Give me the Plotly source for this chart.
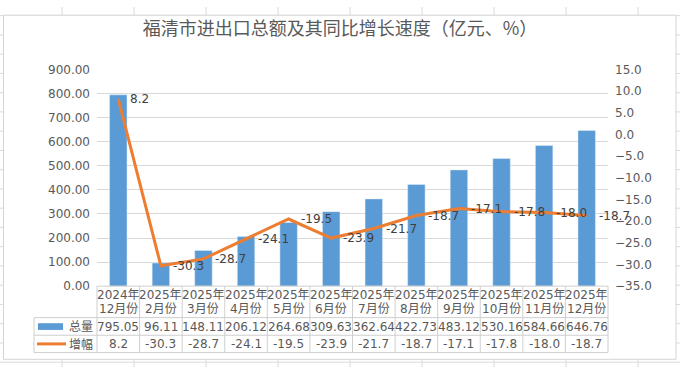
import plotly.graph_objects as go

# ---------------- data ----------------
cat_year = ["2024年", "2025年", "2025年", "2025年", "2025年", "2025年",
            "2025年", "2025年", "2025年", "2025年", "2025年", "2025年"]
cat_month = ["12月份", "2月份", "3月份", "4月份", "5月份", "6月份",
             "7月份", "8月份", "9月份", "10月份", "11月份", "12月份"]
total = [795.05, 96.11, 148.11, 206.12, 264.68, 309.63,
         362.64, 422.73, 483.12, 530.16, 584.66, 646.76]
growth = [8.2, -30.3, -28.7, -24.1, -19.5, -23.9,
          -21.7, -18.7, -17.1, -17.8, -18.0, -18.7]
series_names = ["总量", "增幅"]
title_text = "福清市进出口总额及其同比增长速度（亿元、%）"

# ---------------- geometry helpers (pixels -> paper) ----------------
W, H = 680, 374
def px(x):
    return x / W
def py(y):
    return 1 - y / H

PL, PR, PT, PB = 97, 608, 65, 290       # plot area
ROW1, ROW2, ROW3 = 322.7, 341, 359      # table row boundaries
n = len(total)
cw = (PR - PL) / n

BLUE = "#5b9bd5"
ORANGE = "#ed7d31"
GRID = "#d9d9d9"
TXT = "#595959"
DARK = "#404040"
FONT = "DejaVu Sans, Noto Sans CJK SC, sans-serif"
xs = list(range(n))

fig = go.Figure()
fig.add_trace(go.Bar(x=xs, y=total, name=series_names[0], marker_color=BLUE,
                     width=0.41, yaxis="y"))
fig.add_trace(go.Scatter(x=xs, y=growth, name=series_names[1], mode="lines",
                         line=dict(color=ORANGE, width=3), yaxis="y2"))

shapes = []
# spreadsheet cell grid behind the chart
for k in range(9):
    xv = 62 + 72 * k
    shapes.append(dict(type="line", xref="paper", yref="paper", layer="below",
                       x0=px(xv), x1=px(xv), y0=0, y1=1,
                       line=dict(color="#dadada", width=1)))
for k in range(19):
    yv = 9 + 20 * k
    shapes.append(dict(type="line", xref="paper", yref="paper", layer="below",
                       x0=0, x1=1, y0=py(yv), y1=py(yv),
                       line=dict(color="#dadada", width=1)))
# chart area
shapes.append(dict(type="rect", xref="paper", yref="paper", layer="below",
                   x0=px(3.5), x1=px(676), y0=py(366), y1=py(8.5),
                   fillcolor="white", line=dict(color="#d4d4d4", width=1)))
# data table lines
TL = "#cfcfcf"
shapes.append(dict(type="line", xref="paper", yref="paper",
                   x0=px(PL), x1=px(PR), y0=py(PB), y1=py(PB),
                   line=dict(color=TL, width=1)))
for yv in (ROW1, ROW2, ROW3):
    shapes.append(dict(type="line", xref="paper", yref="paper",
                       x0=px(34), x1=px(PR), y0=py(yv), y1=py(yv),
                       line=dict(color=TL, width=1)))
shapes.append(dict(type="line", xref="paper", yref="paper",
                   x0=px(34), x1=px(34), y0=py(ROW1), y1=py(ROW3),
                   line=dict(color=TL, width=1)))
for k in range(n + 1):
    xv = PL + cw * k
    shapes.append(dict(type="line", xref="paper", yref="paper",
                       x0=px(xv), x1=px(xv), y0=py(PB), y1=py(ROW3),
                       line=dict(color=TL, width=1)))
# legend keys
shapes.append(dict(type="rect", xref="paper", yref="paper",
                   x0=px(38), x1=px(63), y0=py(335.5), y1=py(328.5),
                   fillcolor=BLUE, line=dict(width=0)))
shapes.append(dict(type="line", xref="paper", yref="paper",
                   x0=px(37), x1=px(66), y0=py(350), y1=py(350),
                   line=dict(color=ORANGE, width=3)))

ann = []
# line data labels
for i, g in enumerate(growth):
    ann.append(dict(x=i, y=g, xref="x", yref="y2", text=f"{g:.1f}",
                    showarrow=False, xanchor="left", yanchor="middle",
                    xshift=10, font=dict(size=12, color=DARK, family=FONT)))
# table: categories and values
for i in range(n):
    ann.append(dict(x=i, y=py(299.5), xref="x", yref="paper", text=cat_year[i],
                    showarrow=False, xanchor="center", yanchor="middle",
                    font=dict(size=12, color=TXT, family=FONT)))
    ann.append(dict(x=i, y=py(313.5), xref="x", yref="paper", text=cat_month[i],
                    showarrow=False, xanchor="center", yanchor="middle",
                    font=dict(size=12, color=TXT, family=FONT)))
    ann.append(dict(x=i, y=py(332), xref="x", yref="paper", text=f"{total[i]:.2f}",
                    showarrow=False, xanchor="center", yanchor="middle",
                    font=dict(size=12, color=TXT, family=FONT)))
    ann.append(dict(x=i, y=py(350.5), xref="x", yref="paper", text=f"{growth[i]:.1f}",
                    showarrow=False, xanchor="center", yanchor="middle",
                    font=dict(size=12, color=TXT, family=FONT)))
for name, yv in zip(series_names, (332, 350.5)):
    ann.append(dict(x=px(95), y=py(yv), xref="paper", yref="paper", text=name,
                    showarrow=False, xanchor="right", yanchor="middle",
                    font=dict(size=12, color=TXT, family=FONT)))

fig.update_layout(
    width=W, height=H,
    margin=dict(l=0, r=0, t=0, b=0),
    paper_bgcolor="white",
    plot_bgcolor="rgba(0,0,0,0)",
    showlegend=False,
    hovermode=False,
    font=dict(family=FONT, size=12, color=TXT),
    title=dict(text=title_text, x=0.5, xanchor="center", y=py(29),
               yanchor="middle",
               font=dict(size=18, color=TXT,
                         family="Noto Sans CJK SC, DejaVu Sans, sans-serif")),
    xaxis=dict(domain=[px(PL), px(PR)], range=[-0.5, n - 0.5],
               showticklabels=False, showgrid=False, zeroline=False,
               showline=False, ticks="", fixedrange=True),
    yaxis=dict(domain=[py(PB), py(PT)], range=[0, 900], dtick=100,
               tickformat=".2f", showgrid=True, gridcolor=GRID, gridwidth=1,
               zeroline=False, showline=False, ticks="",
               ticklabelstandoff=6,
               tickfont=dict(size=12, color=TXT, family=FONT)),
    yaxis2=dict(overlaying="y", side="right", anchor="x",
                range=[-35, 15], dtick=5, tick0=0, tickformat=".1f",
                showgrid=False, zeroline=False, showline=False, ticks="",
                ticklabelstandoff=6,
                tickfont=dict(size=12, color=TXT, family=FONT)),
    shapes=shapes,
    annotations=ann,
)

fig.write_html(
    "out.html",
    config={"displayModeBar": False},
    post_script="document.body.style.margin='0';document.body.style.padding='0';"
                "document.documentElement.style.overflow='hidden';",
)
